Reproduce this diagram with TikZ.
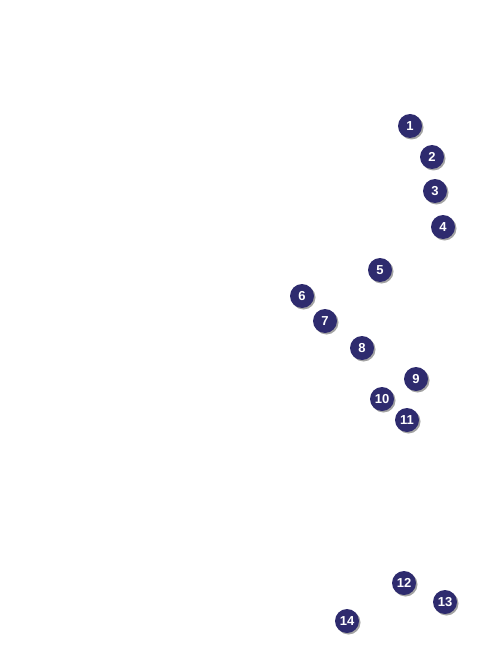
\documentclass[tikz,border=0pt]{standalone}
\usepackage{fontspec}
\setmainfont{Liberation Sans}
\usetikzlibrary{shadows}
\definecolor{navy}{HTML}{2E2B6E}
\tikzset{
        marker/.style={text=white, circle, fill=navy, minimum size=24pt, inner sep=0pt,
          font=\bfseries\fontsize{13}{13}\selectfont,
          drop shadow={shadow xshift=1.5pt, shadow yshift=-1.5pt, fill=black!45, opacity=0.8}},
          }
\begin{document}
\begin{tikzpicture}[x=1pt,y=-1pt]
        \useasboundingbox (0,0) rectangle (476,647);
        \node[marker] (n1) at (410,126) {1};
        \node[marker] (n2) at (432,157) {2};
        \node[marker] (n3) at (435,191) {3};
        \node[marker] (n4) at (443,227) {4};
        \node[marker] (n5) at (380,270) {5};
        \node[marker] (n6) at (302,296) {6};
        \node[marker] (n7) at (325,321) {7};
        \node[marker] (n8) at (362,348) {8};
        \node[marker] (n9) at (416,379) {9};
        \node[marker] (n10) at (382,399) {10};
        \node[marker] (n11) at (407,420) {11};
        \node[marker] (n12) at (404,583) {12};
        \node[marker] (n13) at (445,602) {13};
        \node[marker] (n14) at (347,621) {14};
      \end{tikzpicture}
\end{document}
